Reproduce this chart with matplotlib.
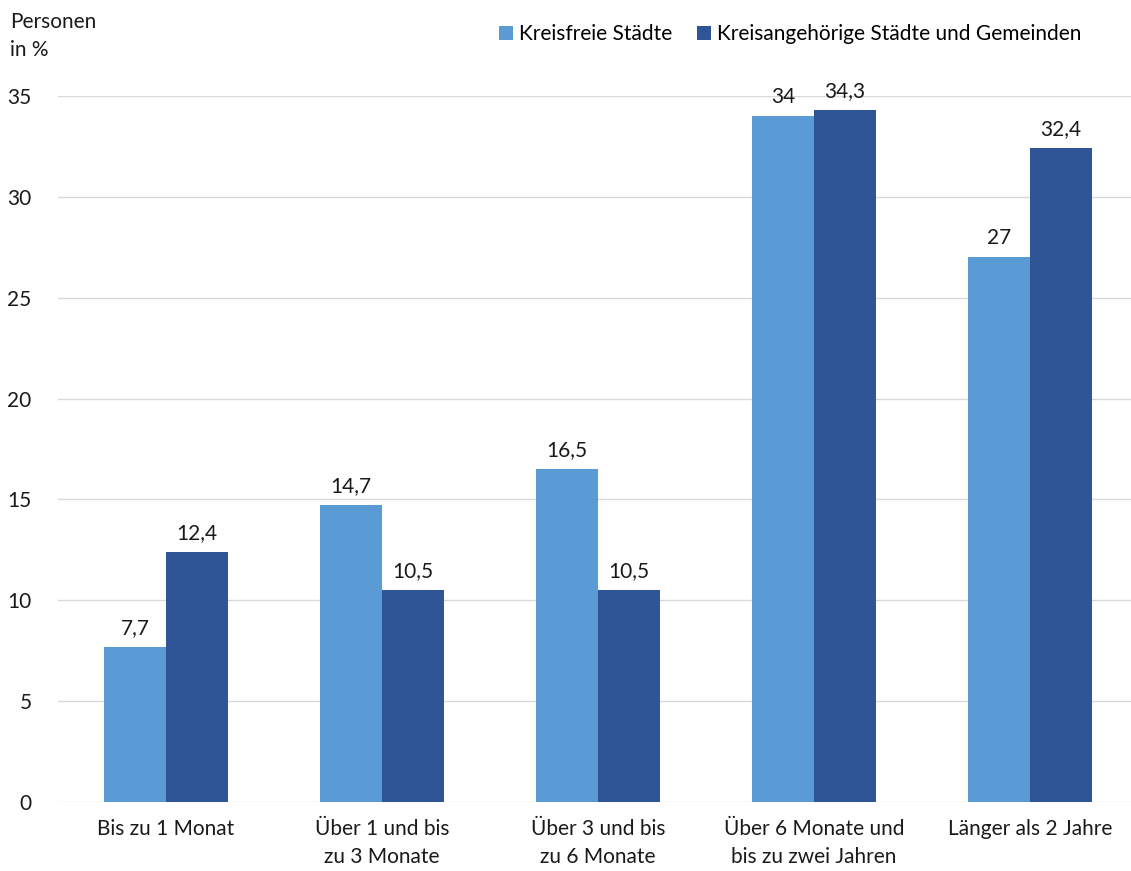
import matplotlib
matplotlib.use("Agg")
import matplotlib.pyplot as plt
import numpy as np

categories = ["Bis zu 1 Monat", "Über 1 und bis\nzu 3 Monate", "Über 3 und bis\nzu 6 Monate",
              "Über 6 Monate und\nbis zu zwei Jahren", "Länger als 2 Jahre"]
series_names = ["Kreisfreie Städte", "Kreisangehörige Städte und Gemeinden"]
kreisfreie = [7.7, 14.7, 16.5, 34, 27]
kreisangehoerige = [12.4, 10.5, 10.5, 34.3, 32.4]
labels_kf = ["7,7", "14,7", "16,5", "34", "27"]
labels_ka = ["12,4", "10,5", "10,5", "34,3", "32,4"]
yticks = [0, 5, 10, 15, 20, 25, 30, 35]

plt.rcParams['font.family'] = ['Lato', 'DejaVu Sans']
fs = 15
fig = plt.figure(figsize=(11.31, 8.71), dpi=100)
ax = fig.add_axes([58/1131, 1-802/871, 1080/1131, (802-96)/871])

x = np.arange(len(categories))
w = 0.288
c1, c2 = "#5B9BD5", "#2F5597"
b1 = ax.bar(x - w/2, kreisfreie, w, color=c1, label=series_names[0], zorder=3)
b2 = ax.bar(x + w/2, kreisangehoerige, w, color=c2, label=series_names[1], zorder=3)
for rect, t in zip(b1, labels_kf):
    ax.text(rect.get_x() + rect.get_width()/2, rect.get_height() + 0.45, t, ha='center', va='bottom', fontsize=fs, color='#1a1a1a')
for rect, t in zip(b2, labels_ka):
    ax.text(rect.get_x() + rect.get_width()/2, rect.get_height() + 0.45, t, ha='center', va='bottom', fontsize=fs, color='#1a1a1a')

ax.set_xlim(-0.5, 4.5)
ax.set_ylim(0, 35)
ax.set_yticks(yticks)
ax.set_yticklabels([str(v) for v in yticks], fontsize=fs, color='#1a1a1a')
ax.set_xticks(x)
ax.set_xticklabels(categories, fontsize=fs, color='#1a1a1a', linespacing=1.5)
ax.tick_params(axis='both', length=0)
ax.tick_params(axis='y', pad=19)
ax.tick_params(axis='x', pad=12)
ax.grid(axis='y', color='#D9D9D9', linewidth=1, zorder=0)
for s in ax.spines.values():
    s.set_visible(False)

fig.text(10/1131, 1-36/871, "Personen\nin %", fontsize=fs, ha='left', va='center', color='#1a1a1a', linespacing=1.55)
leg = fig.legend(handles=[b1, b2], labels=series_names, loc='center right',
                 bbox_to_anchor=(1100/1131, 1-34/871), ncol=2, frameon=False, fontsize=fs,
                 handlelength=0.65, handleheight=0.65, handletextpad=0.3, columnspacing=1.2)
fig.savefig("out.png", dpi=100)
